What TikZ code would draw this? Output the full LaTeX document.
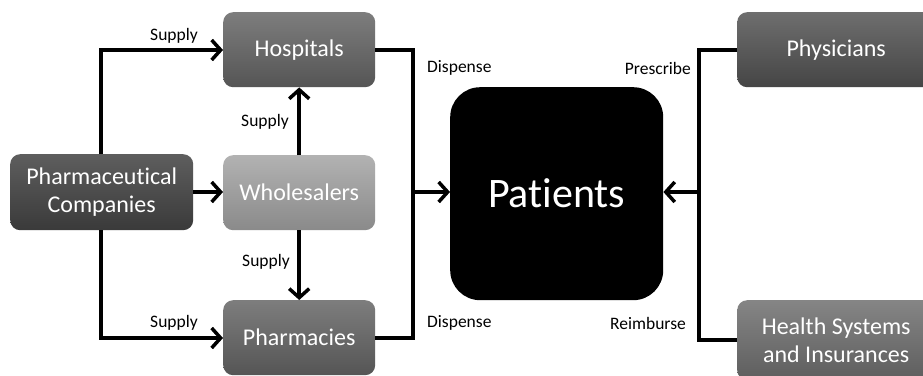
\documentclass[tikz,border=0pt]{standalone}
\usepackage{fontspec}
\setmainfont[Ligatures=NoCommon]{Carlito}
\usetikzlibrary{arrows.meta}
\definecolor{hosT}{HTML}{7D7D7D}\definecolor{hosB}{HTML}{555555}
\definecolor{whoT}{HTML}{B2B2B2}\definecolor{whoB}{HTML}{8A8A8A}
\definecolor{phaT}{HTML}{5E5E5E}\definecolor{phaB}{HTML}{3A3A3A}
\definecolor{phyT}{HTML}{6E6E6E}\definecolor{phyB}{HTML}{454545}
\definecolor{heaT}{HTML}{858585}\definecolor{heaB}{HTML}{5E5E5E}
\tikzset{
  box/.style={rounded corners=10pt, inner sep=0pt, text=white, font=\fontsize{24}{28}\selectfont, align=center, anchor=north west},
  conn/.style={line width=3.5pt},
  arr/.style={line width=3.5pt, -{Straight Barb[length=9pt,width=20pt,line width=3.5pt]}},
  lbl/.style={font=\fontsize{17.5}{20}\selectfont, inner sep=0pt}
}
\begin{document}
\begin{tikzpicture}[x=1pt,y=-1pt]
\useasboundingbox[fill=white] (0,0) rectangle (923,375);
% boxes
\node[box, top color=hosT, bottom color=hosB, minimum width=152pt, minimum height=75pt] (hos) at (223,12) {Hospitals};
\node[box, top color=whoT, bottom color=whoB, minimum width=152pt, minimum height=75pt] (who) at (223,155) {Wholesalers};
\node[box, top color=hosT, bottom color=hosB, minimum width=152pt, minimum height=75pt] (pha) at (223,300) {Pharmacies};
\node[box, top color=phaT, bottom color=phaB, minimum width=183pt, minimum height=76pt] (com) at (10,154) {Pharmaceutical\\Companies};
\node[box, fill=black, rounded corners=30pt, minimum width=213pt, minimum height=213pt, font=\fontsize{42}{46}\selectfont] (pat) at (450,87) {Patients};
\node[box, top color=phyT, bottom color=phyB, minimum width=198pt, minimum height=75pt] (phy) at (737,12) {Physicians};
\node[box, top color=heaT, bottom color=heaB, minimum width=198pt, minimum height=80pt] (hea) at (737,300) {Health Systems\\and Insurances};
% coordinates
\coordinate (cTop) at (101,50);
\coordinate (cBot) at (101,338);
\coordinate (lTop) at (413,50);
\coordinate (lBot) at (413,338);
\coordinate (lMid) at (413,192);
\coordinate (rTop) at (699,50);
\coordinate (rBot) at (699,340);
\coordinate (rMid) at (699,192);
% connectors
\draw[arr] (com.north -| cTop) -- (cTop) -- (hos.west |- cTop);
\draw[arr] (com.south -| cBot) -- (cBot) -- (pha.west |- cBot);
\draw[arr] (com.east |- lMid) -- (who.west |- lMid);
\draw[arr] (who.north) -- (hos.south);
\draw[arr] (who.south) -- (pha.north);
\draw[conn] (hos.east |- lTop) -- (lTop) -- (lBot) -- (pha.east |- lBot);
\draw[arr] (lMid) -- (pat.west |- lMid);
\draw[conn] (phy.west |- rTop) -- (rTop) -- (rBot) -- (hea.west |- rBot);
\draw[arr] (rMid) -- (pat.east |- rMid);
% labels
\node[lbl, anchor=east] (s1) at (198,36) {Supply};
\node[lbl, anchor=east] (s2) at (198,323) {Supply};
\node[lbl, anchor=east] (s3) at (289,122) {Supply};
\node[lbl, anchor=east] (s4) at (290,262) {Supply};
\node[lbl, anchor=west] (d1) at (427,68) {Dispense};
\node[lbl, anchor=west] (d2) at (427,323) {Dispense};
\node[lbl, anchor=east] (p1) at (691,68) {Prescribe};
\node[lbl, anchor=east] (r1) at (686,323) {Reimburse};
\end{tikzpicture}
\end{document}
